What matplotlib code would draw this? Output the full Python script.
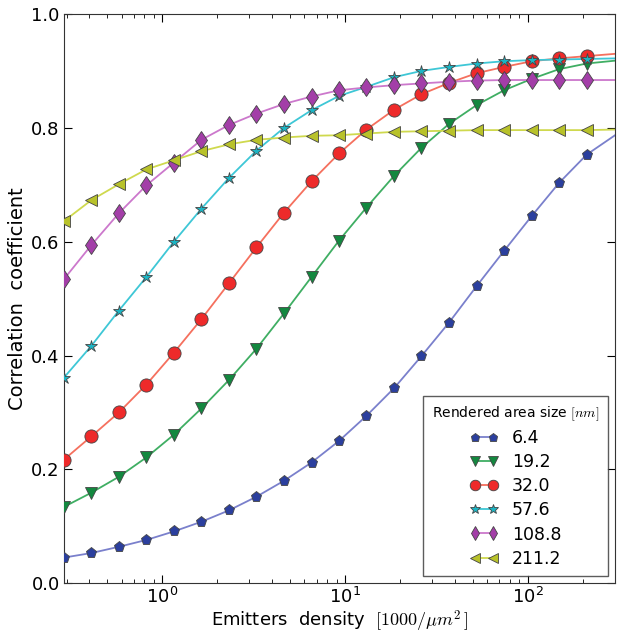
import numpy as np
import matplotlib
matplotlib.use('Agg')
import matplotlib.pyplot as plt

# emitter densities where the markers sit (1000/um^2)
density = [0.29, 0.41, 0.58, 0.82, 1.16, 1.64, 2.32, 3.28, 4.64, 6.56,
           9.28, 13.1, 18.6, 26.2, 37.1, 52.5, 74.2, 105., 148., 210.]
# right end of the curves
x_end = 300.

sizes = ['6.4', '19.2', '32.0', '57.6', '108.8', '211.2']

corr_6_4 = [0.045, 0.053, 0.064, 0.076, 0.091, 0.108, 0.128, 0.152, 0.180, 0.212,
            0.250, 0.294, 0.343, 0.399, 0.458, 0.522, 0.584, 0.645, 0.703, 0.753]
corr_19_2 = [0.134, 0.159, 0.187, 0.221, 0.261, 0.307, 0.357, 0.412, 0.474, 0.538,
             0.602, 0.660, 0.716, 0.765, 0.807, 0.840, 0.866, 0.886, 0.903, 0.913]
corr_32_0 = [0.217, 0.258, 0.300, 0.349, 0.405, 0.464, 0.527, 0.590, 0.651, 0.706,
             0.755, 0.797, 0.832, 0.859, 0.879, 0.896, 0.907, 0.917, 0.922, 0.926]
corr_57_6 = [0.361, 0.417, 0.479, 0.538, 0.600, 0.658, 0.712, 0.760, 0.800, 0.831,
             0.856, 0.872, 0.889, 0.900, 0.907, 0.913, 0.917, 0.919, 0.920, 0.921]
corr_108_8 = [0.534, 0.594, 0.650, 0.699, 0.739, 0.779, 0.805, 0.825, 0.842, 0.855,
              0.866, 0.871, 0.875, 0.878, 0.881, 0.883, 0.884, 0.884, 0.884, 0.884]
corr_211_2 = [0.636, 0.673, 0.701, 0.727, 0.743, 0.759, 0.771, 0.779, 0.783, 0.786,
              0.787, 0.790, 0.793, 0.794, 0.795, 0.796, 0.796, 0.796, 0.796, 0.796]
# values of the curves at the right edge
corr_end = [0.787, 0.918, 0.930, 0.922, 0.884, 0.797]

all_corr = [corr_6_4, corr_19_2, corr_32_0, corr_57_6, corr_108_8, corr_211_2]

markers = ['p', 'v', 'o', '*', 'd', '<']
msizes = [8, 9, 9.5, 9, 9.5, 9]
face_cols = ['#2b3f9e', '#13883f', '#ee2a2a', '#1bb5c4', '#a33ea8', '#b8c22a']
line_cols = ['#7a80cc', '#3fae63', '#f5705e', '#3ec7d6', '#cc78cc', '#cfd94e']

plt.rcParams['mathtext.fontset'] = 'cm'
plt.rcParams['font.family'] = 'DejaVu Sans'

fig = plt.figure(figsize=(6.2, 6.36), dpi=100)
ax = fig.add_axes([0.103, 0.083, 0.889, 0.895])

for i in range(len(sizes)):
    y = all_corr[i]
    # smooth curve, runs on to the right edge
    ax.plot(density + [x_end], y + [corr_end[i]], '-', color=line_cols[i], lw=1.3, zorder=2)
    ax.plot(density, y, linestyle='none', marker=markers[i], ms=msizes[i],
            mfc=face_cols[i], mec='#444444', mew=0.6, zorder=3)
    # legend handle: marker joined by the line
    ax.plot([], [], '-', color=line_cols[i], lw=1.3, marker=markers[i], ms=msizes[i],
            mfc=face_cols[i], mec='#444444', mew=0.6, label=sizes[i])

ax.set_xscale('log')
ax.set_xlim(0.29, 300)
ax.set_ylim(0, 1.0)
ax.set_yticks([0.0, 0.2, 0.4, 0.6, 0.8, 1.0])
ax.set_yticklabels(['0.0', '0.2', '0.4', '0.6', '0.8', '1.0'])
ax.tick_params(which='both', direction='in', top=True, right=True, labelsize=13)
ax.tick_params(which='major', length=6, pad=3)
ax.tick_params(which='minor', length=3)
for s in ax.spines.values():
    s.set_color('#333333')

ax.set_xlabel(r'Emitters  density  $[1000/\mu m^2\,]$', fontsize=13, labelpad=1)
ax.set_ylabel('Correlation  coefficient', fontsize=14, labelpad=3)

leg = ax.legend(loc='lower right', title=r'Rendered area size $[nm]$', fontsize=12.5,
                title_fontsize=10, fancybox=False, numpoints=2, handlelength=1.6,
                markerscale=0.8, borderaxespad=0.4, labelspacing=0.35,
                borderpad=0.5, edgecolor='#333333')
leg.get_frame().set_linewidth(1.0)

fig.savefig('out.png', dpi=100)
